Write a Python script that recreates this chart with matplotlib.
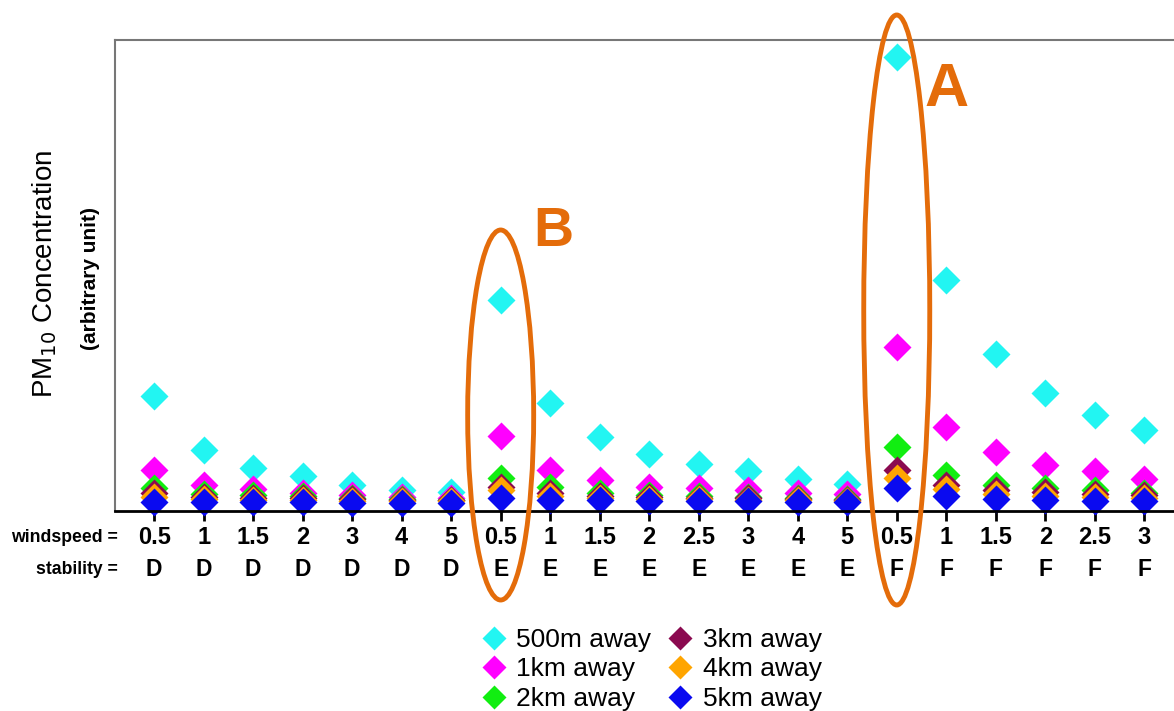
import matplotlib
matplotlib.use('Agg')
import matplotlib.pyplot as plt
import matplotlib.transforms as mtransforms
from matplotlib.patches import Ellipse

plt.rcParams['font.family'] = ['Liberation Sans', 'DejaVu Sans']

WINDSPEED = ['0.5', '1', '1.5', '2', '3', '4', '5',
             '0.5', '1', '1.5', '2', '2.5', '3', '4', '5',
             '0.5', '1', '1.5', '2', '2.5', '3']
STABILITY = ['D', 'D', 'D', 'D', 'D', 'D', 'D',
             'E', 'E', 'E', 'E', 'E', 'E', 'E', 'E',
             'F', 'F', 'F', 'F', 'F', 'F']

# concentrations (arbitrary unit)
c_500m = [11.5, 6.1, 4.3, 3.5, 2.6, 2.1, 1.9,
          21.1, 10.8, 7.4, 5.7, 4.7, 4.0, 3.2, 2.7,
          45.4, 23.1, 15.7, 11.8, 9.6, 8.1]
c_1km = [4.1, 2.6, 2.2, 1.8, 1.6, 1.4, 1.3,
         7.5, 4.1, 3.1, 2.4, 2.3, 2.1, 1.8, 1.7,
         16.4, 8.4, 5.9, 4.6, 4.0, 3.2]
c_2km = [2.3, 1.7, 1.6, 1.5, 1.3, 1.2, 1.1,
         3.3, 2.4, 1.8, 1.6, 1.5, 1.4, 1.3, 1.2,
         6.4, 3.6, 2.6, 2.3, 2.1, 1.8]
c_3km = [1.8, 1.4, 1.3, 1.3, 1.2, 1.1, 1.1,
         2.4, 1.8, 1.5, 1.4, 1.3, 1.3, 1.2, 1.1,
         4.1, 2.6, 2.1, 1.9, 1.7, 1.6]
c_4km = [1.4, 1.2, 1.1, 1.1, 1.0, 1.0, 1.0,
         2.1, 1.5, 1.3, 1.2, 1.2, 1.1, 1.1, 1.0,
         3.3, 2.2, 1.7, 1.5, 1.4, 1.3]
c_5km = [0.9, 0.9, 0.9, 0.9, 0.8, 0.8, 0.8,
         1.3, 1.1, 1.1, 1.0, 1.0, 1.0, 0.9, 0.9,
         2.3, 1.5, 1.2, 1.1, 1.0, 1.0]

SERIES = [
    ('500m away', c_500m, '#22F5F2'),
    ('1km away', c_1km, '#FF00FF'),
    ('2km away', c_2km, '#11EE11'),
    ('3km away', c_3km, '#8B0A50'),
    ('4km away', c_4km, '#FFA500'),
    ('5km away', c_5km, '#0A0AF0'),
]

ORANGE = '#E46C0A'

fig = plt.figure(figsize=(11.74, 7.11), dpi=100)
ax = fig.add_axes([115 / 1174, 1 - 511 / 711, 1 - 115 / 1174, 471 / 711])

x = list(range(len(WINDSPEED)))
for label, vals, color in SERIES:
    ax.plot(x, vals, 'D', ms=14.5, color=color, mec='none', linestyle='none',
            label=label, clip_on=False)

ax.set_xlim(-0.79, 20.6)
ax.set_ylim(0, 47.1)
ax.set_yticks([])
ax.set_xticks(x)
ax.set_xticklabels(WINDSPEED, fontsize=17, fontweight='bold')
ax.tick_params(axis='x', direction='out', length=7, width=2, pad=4)

for side in ['left', 'top']:
    ax.spines[side].set_color('#777777')
    ax.spines[side].set_linewidth(1.5)
ax.spines['right'].set_visible(False)
ax.spines['bottom'].set_color('black')
ax.spines['bottom'].set_linewidth(2)

# second row of category labels
trans = mtransforms.blended_transform_factory(ax.transData, fig.transFigure)
for xi, s in zip(x, STABILITY):
    ax.text(xi, 1 - 569 / 711, s, transform=trans, ha='center', va='center',
            fontsize=16.5, fontweight='bold')

fig.text(118 / 1174, 1 - 538 / 711, 'windspeed =', ha='right', va='center',
         fontsize=12.7, fontweight='bold')
fig.text(118 / 1174, 1 - 569 / 711, 'stability =', ha='right', va='center',
         fontsize=12.7, fontweight='bold')

fig.text(45 / 1174, 1 - 274 / 711, 'PM$_{10}$ Concentration', rotation=90,
         ha='center', va='center', fontsize=20)
fig.text(90 / 1174, 1 - 279 / 711, '(arbitrary unit)', rotation=90,
         ha='center', va='center', fontsize=15, fontweight='bold')

# highlight ellipses
for xi, yc, h, letter, lx, ly, fs in [(15, 310, 590, 'A', 947, 90, 44),
                                       (7, 415, 370, 'B', 553, 232, 40)]:
    ell = Ellipse((xi, 1 - yc / 711), 66 / 49.5, h / 711, transform=trans,
                  fill=False, edgecolor=ORANGE, linewidth=3.5, clip_on=False,
                  zorder=5)
    ax.add_patch(ell)
    fig.text(lx / 1174, 1 - ly / 711, letter, ha='center', va='center',
             fontsize=fs, fontweight='bold', color=ORANGE)

leg = fig.legend(loc='upper left', bbox_to_anchor=(470 / 1174, 1 - 615 / 711),
                 ncol=2, frameon=False, fontsize=19, markerscale=0.85,
                 handlelength=0.8, handletextpad=0.45, columnspacing=0.7,
                 labelspacing=0.2, borderpad=0)

fig.savefig('out.png', dpi=100)
